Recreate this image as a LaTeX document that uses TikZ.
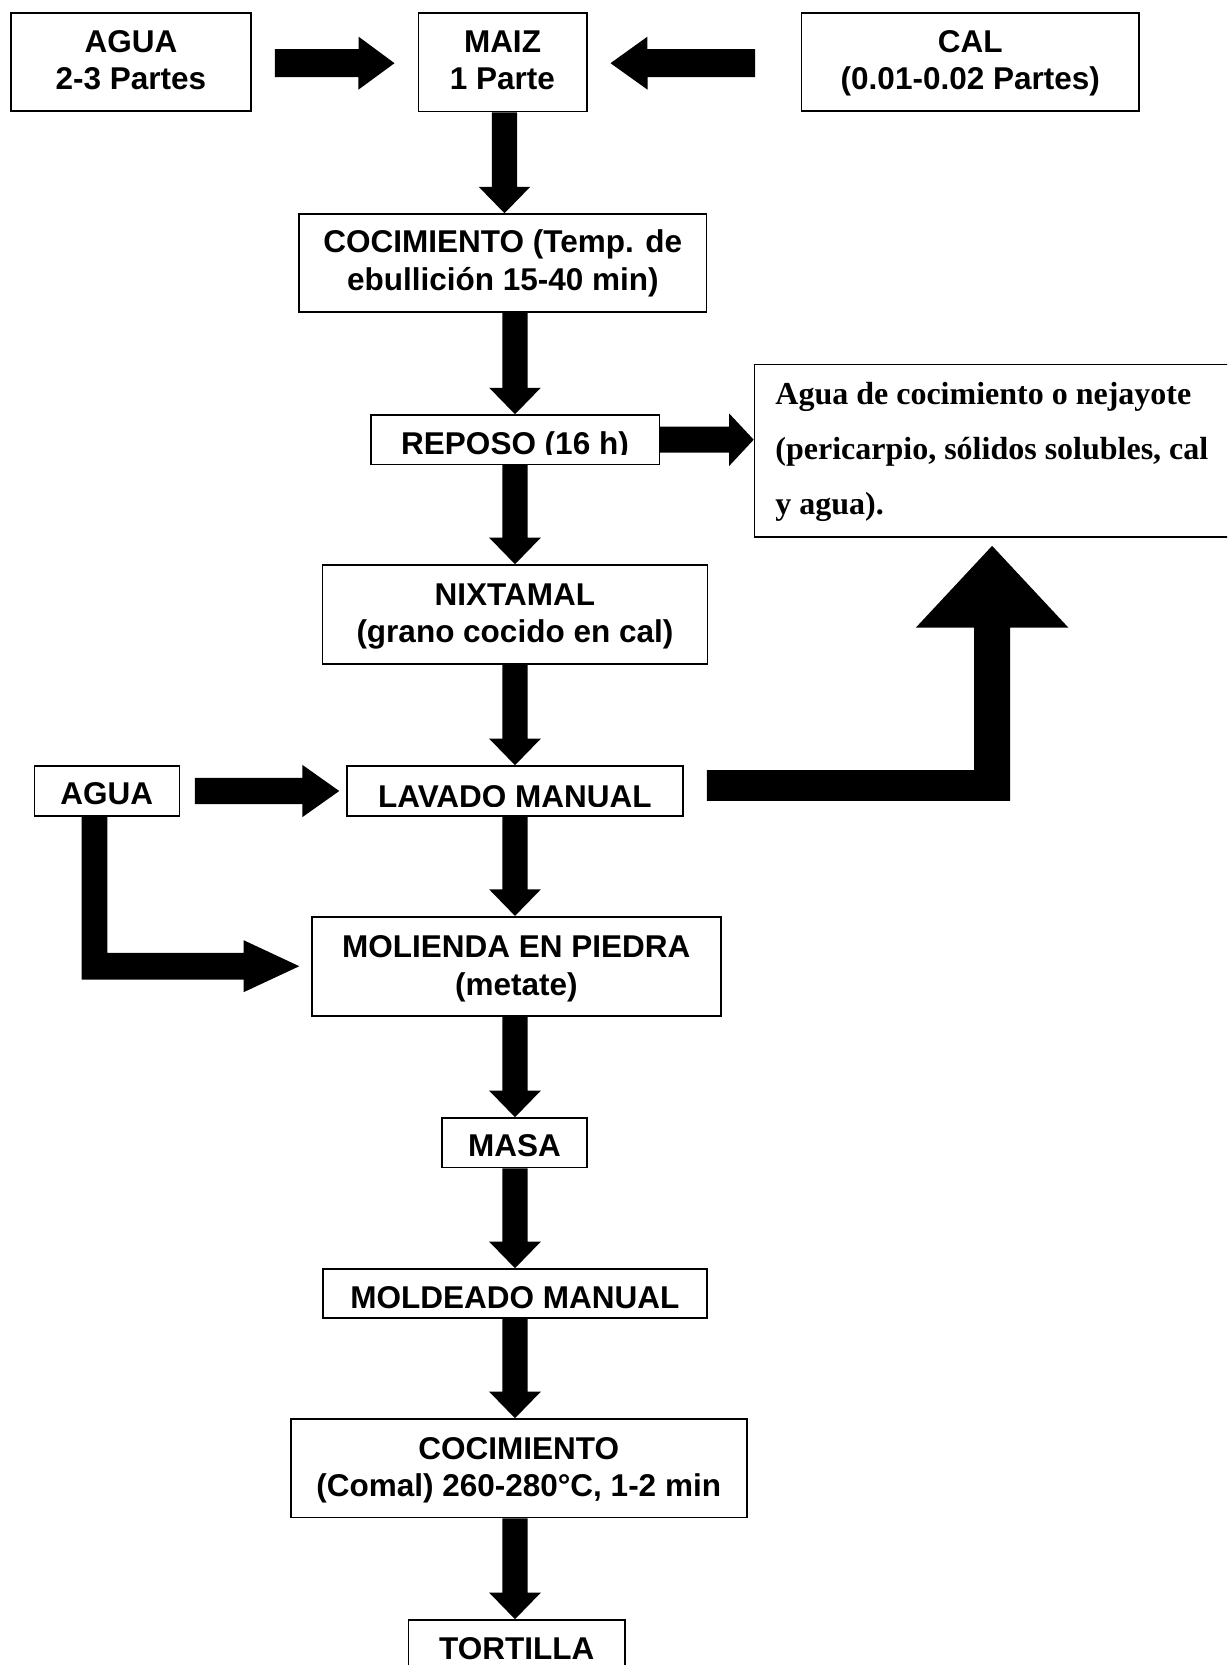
\documentclass[tikz,border=0pt]{standalone}
\usepackage{fontspec}
\setmainfont{Liberation Sans}
\newfontfamily\serifbold{Liberation Serif}
\usetikzlibrary{calc}
\tikzset{
  box/.style={draw=black, line width=1.6pt, fill=white, inner sep=0pt},
  lbl/.style={anchor=base, inner sep=0pt, font=\fontsize{31.5}{37}\selectfont\bfseries},
  slbl/.style={anchor=base west, inner sep=0pt, font=\fontsize{32}{55}\serifbold\bfseries},
  blk/.style={fill=black, draw=none},
}
% block arrow from coordinate #1 to coordinate #2
% #3 shaft half width, #4 head half width, #5 head length
\newcommand\blockarrow[5]{%
  \path ($(#2)!#5!(#1)$) coordinate (hb);
  \fill[blk] ($(#1)!#3!90:(#2)$) -- ($(hb)!#3!90:(#2)$) -- ($(hb)!#4!90:(#2)$) -- (#2)
     -- ($(hb)!#4!-90:(#2)$) -- ($(hb)!#3!-90:(#2)$) -- ($(#1)!#3!-90:(#2)$) -- cycle;}
\newcommand\downblock[2]{\blockarrow{#1}{#2}{12.6pt}{25.8pt}{26.5pt}}
\begin{document}
\begin{tikzpicture}[x=1pt,y=-1pt]
\useasboundingbox (0,0) rectangle (1227,1665);
\clip (0,0) rectangle (1227,1665);
\fill[white] (0,0) rectangle (1227,1665);
\coordinate (axis) at (515,0);

% ---------- boxes ----------
\node[box, minimum width=240pt, minimum height=98pt] (agua1) at (131,62) {};
\node[box, minimum width=168.4pt, minimum height=98.5pt] (maiz) at (502.5,62.2) {};
\node[box, minimum width=337.4pt, minimum height=98pt] (cal) at (970.3,62) {};
\node[box, minimum width=407.7pt, minimum height=97.7pt] (coc1) at (502.8,262.9) {};
\node[box, minimum width=288.6pt, minimum height=49.3pt] (reposo) at (515,439.7) {};
\node[box, minimum width=485.5pt, minimum height=172.7pt] (aguade) at (997.25,450.7) {};
\node[box, minimum width=384.8pt, minimum height=99pt] (nix) at (514.9,614.5) {};
\node[box, minimum width=336.3pt, minimum height=50pt] (lavado) at (514.9,791) {};
\node[box, minimum width=145pt, minimum height=50pt] (agua2) at (106.8,791) {};
\node[box, minimum width=409pt, minimum height=99pt] (molienda) at (516.3,966.2) {};
\node[box, minimum width=145pt, minimum height=49.5pt] (masa) at (514.5,1142.75) {};
\node[box, minimum width=384.3pt, minimum height=49pt] (moldeado) at (514.9,1293.5) {};
\node[box, minimum width=456pt, minimum height=98.5pt] (coc2) at (518.7,1468.25) {};
\node[box, minimum width=216.7pt, minimum height=100pt] (tortilla) at (516.65,1670) {};

% ---------- texts ----------
\node[lbl] (agua1a) at ($(agua1.north)+(0,40.3)$) {AGUA};
\node[lbl] (agua1b) at ($(agua1.north)+(0,77.7)$) {2-3 Partes};
\node[lbl] (maiza) at ($(maiz.north)+(0,40.3)$) {MAIZ};
\node[lbl] (maizb) at ($(maiz.north)+(0,77.7)$) {1 Parte};
\node[lbl] (cala) at ($(cal.north)+(0,40.3)$) {CAL};
\node[lbl] (calb) at ($(cal.north)+(0,77.7)$) {(0.01-0.02 Partes)};
\node[lbl] (coc1a) at ($(coc1.north)+(0,39.3)$) {COCIMIENTO (Temp. de};
\node[lbl] (coc1b) at ($(coc1.north)+(0,77)$) {ebullición 15-40 min)};
\begin{scope}
  \clip ($(reposo.south west)+(0,-10.5)$) rectangle (reposo.north east);
  \node[lbl] (reposot) at ($(reposo.north)+(0,40)$) {REPOSO (16 h)};
\end{scope}
\node[slbl] (aguadea) at ($(aguade.north west)+(21.5,40.7)$) {Agua de cocimiento o nejayote};
\node[slbl] (aguadeb) at ($(aguade.north west)+(21.5,95.7)$) {(pericarpio, sólidos solubles, cal};
\node[slbl] (aguadec) at ($(aguade.north west)+(21.5,150.7)$) {y agua).};
\node[lbl] (nixa) at ($(nix.north)+(0,41.7)$) {NIXTAMAL};
\node[lbl] (nixb) at ($(nix.north)+(0,78.5)$) {(grano cocido en cal)};
\begin{scope}
  \clip ($(lavado.south west)+(0,-10)$) rectangle (lavado.north east);
  \node[lbl] (lavadot) at ($(lavado.north)+(0,42)$) {LAVADO MANUAL};
\end{scope}
\node[lbl] (agua2t) at ($(agua2.north)+(0,39.5)$) {AGUA};
\node[lbl] (moliendaa) at ($(molienda.north)+(0,41.6)$) {MOLIENDA EN PIEDRA};
\node[lbl] (moliendab) at ($(molienda.north)+(0,79.5)$) {(metate)};
\node[lbl] (masat) at ($(masa.north)+(0,39.6)$) {MASA};
\begin{scope}
  \clip ($(moldeado.south west)+(0,-10)$) rectangle (moldeado.north east);
  \node[lbl] (moldeadot) at ($(moldeado.north)+(0,40)$) {MOLDEADO MANUAL};
\end{scope}
\node[lbl] (coc2a) at ($(coc2.north)+(0,41.5)$) {COCIMIENTO};
\node[lbl] (coc2b) at ($(coc2.north)+(0,78.2)$) {(Comal) 260-280°C, 1-2 min};
\node[lbl] (tortillat) at ($(tortilla.north)+(0,40)$) {TORTILLA};

% ---------- arrows ----------
\coordinate (a1s) at ($(agua1.east)+(23,1)$);
\coordinate (a1e) at ($(maiz.west)+(-23,1)$);
\blockarrow{a1s}{a1e}{14pt}{26.5pt}{36pt}
\coordinate (a2s) at ($(cal.west)+(-45.6,1)$);
\coordinate (a2e) at ($(maiz.east)+(23,1)$);
\blockarrow{a2s}{a2e}{14pt}{26.5pt}{37pt}
\coordinate (a3s) at ($(maiz.south)+(2,0)$);
\coordinate (a3e) at (a3s |- coc1.north);
\downblock{a3s}{a3e}
\coordinate (a4s) at (axis |- coc1.south);
\coordinate (a4e) at (axis |- reposo.north);
\downblock{a4s}{a4e}
\coordinate (a5s) at (reposo.east);
\coordinate (a5e) at (reposo.east -| aguade.west);
\blockarrow{a5s}{a5e}{13pt}{26.2pt}{24.5pt}
\coordinate (a6s) at (axis |- reposo.south);
\coordinate (a6e) at (axis |- nix.north);
\downblock{a6s}{a6e}
\coordinate (a7s) at (axis |- nix.south);
\coordinate (a7e) at (axis |- lavado.north);
\downblock{a7s}{a7e}
\coordinate (a8s) at ($(agua2.east)+(14.7,0)$);
\coordinate (a8e) at ($(lavado.west)+(-6.7,0)$);
\blockarrow{a8s}{a8e}{13.2pt}{26.2pt}{37pt}
\coordinate (a9s) at (axis |- lavado.south);
\coordinate (a9e) at (axis |- molienda.north);
\downblock{a9s}{a9e}
\coordinate (a11s) at (axis |- molienda.south);
\coordinate (a11e) at (axis |- masa.north);
\downblock{a11s}{a11e}
\coordinate (a12s) at (axis |- masa.south);
\coordinate (a12e) at (axis |- moldeado.north);
\downblock{a12s}{a12e}
\coordinate (a13s) at (axis |- moldeado.south);
\coordinate (a13e) at (axis |- coc2.north);
\downblock{a13s}{a13e}
\coordinate (a14s) at (axis |- coc2.south);
\coordinate (a14e) at (axis |- tortilla.north);
\downblock{a14s}{a14e}

% L-shaped arrow: AGUA -> MOLIENDA
\coordinate (l1s) at ($(agua2.south)+(-12.3,0)$);
\coordinate (l1c) at (l1s |- molienda.west);
\coordinate (l1e) at ($(molienda.west)+(-11.7,0)$);
\fill[blk] ($(l1s)+(-12.8,0)$) -- ($(l1c)+(-12.8,13.3)$) -- ($(l1e)+(-55.7,13.3)$)
  -- ($(l1e)+(-55.7,26)$) -- (l1e) -- ($(l1e)+(-55.7,-26)$) -- ($(l1e)+(-55.7,-13.3)$)
  -- ($(l1c)+(12.8,-13.3)$) -- ($(l1s)+(12.8,0)$) -- cycle;

% L-shaped arrow: LAVADO -> Agua de cocimiento
\coordinate (l2s) at ($(lavado.east)+(23,-5.6)$);
\coordinate (l2e) at ($(aguade.south west)+(238.4,8)$);
\coordinate (l2c) at (l2e |- l2s);
\fill[blk] ($(l2s)+(0,-15.4)$) -- ($(l2c)+(-18,-15.4)$) -- ($(l2e)+(-18,81.7)$)
  -- ($(l2e)+(-76.2,81.7)$) -- (l2e) -- ($(l2e)+(76.2,81.7)$) -- ($(l2e)+(18,81.7)$)
  -- ($(l2c)+(18,15.4)$) -- ($(l2s)+(0,15.4)$) -- cycle;
\end{tikzpicture}
\end{document}
